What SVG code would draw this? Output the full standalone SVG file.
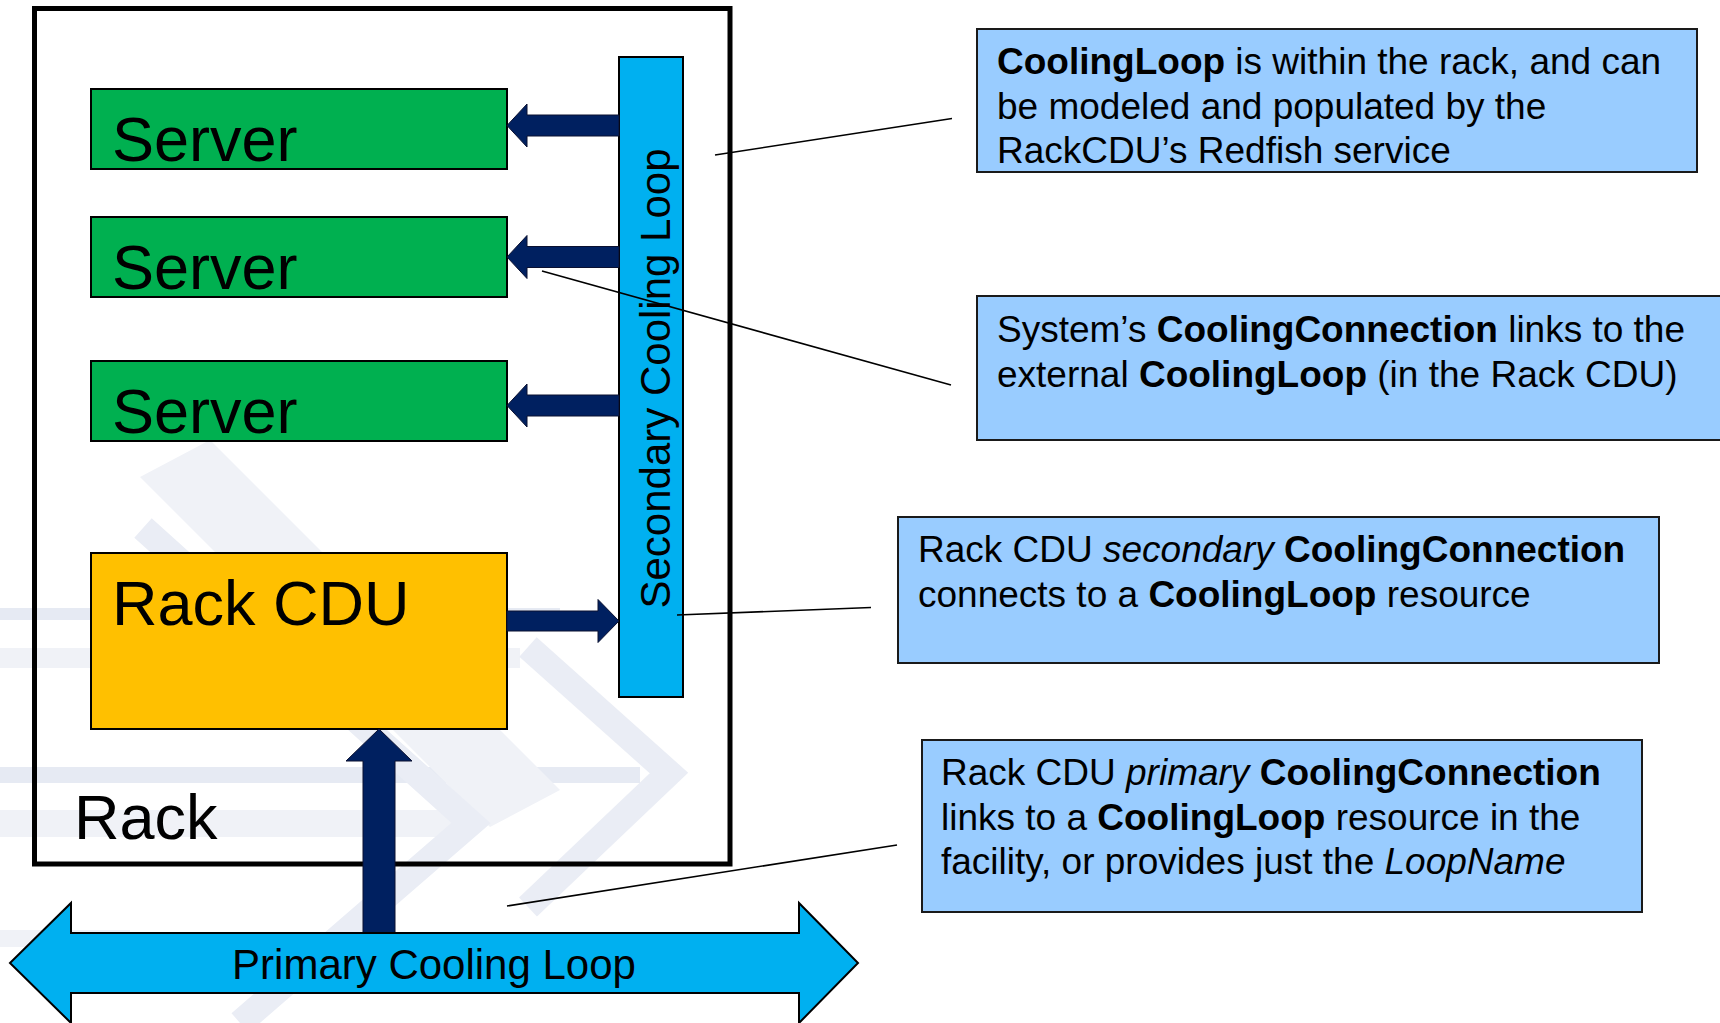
<svg xmlns="http://www.w3.org/2000/svg" width="1720" height="1023" viewBox="0 0 1720 1023">
<style>
  .wm { fill: #f0f2f7; }
  .wm2 { fill: #e6eaf3; }
  .wms { fill: none; stroke: #eaedf5; stroke-width: 26; }
  .server { fill: #00b050; stroke: #000; stroke-width: 2; }
  .cdu { fill: #ffc000; stroke: #000; stroke-width: 2; }
  .loop { fill: #00b0f0; stroke: #000; stroke-width: 2; }
  .flow { fill: #002060; stroke: #0a1030; stroke-width: 1; }
  .note { fill: #99ccff; stroke: #1a1a1a; stroke-width: 2; }
  .lead { stroke: #000; stroke-width: 1.6; fill: none; }
  .big { font-family: "Liberation Sans", Arial, sans-serif; font-size: 63px; fill: #000; }
  .mid { font-family: "Liberation Sans", Arial, sans-serif; font-size: 42px; fill: #000; }
  .txt { font-family: "Liberation Sans", Arial, sans-serif; font-size: 37px; fill: #000; }
  .b { font-weight: bold; }
  .i { font-style: italic; }
</style>

<g id="watermark">
  <rect class="wm2" x="0" y="608" width="560" height="12"/>
  <rect class="wm" x="0" y="648" width="520" height="20"/>
  <rect class="wm2" x="0" y="767" width="640" height="16"/>
  <rect class="wm" x="0" y="810" width="470" height="27"/>
  <rect class="wm" x="0" y="930" width="130" height="17"/>
  <polygon class="wm" points="140,477 210,440 560,790 490,827"/>
  <polyline class="wms" points="528,647 669,773 528,907"/>
  <polyline class="wms" points="143,528 471,823 240,1023"/>
</g>

<g id="rack">
  <rect x="34.5" y="8.5" width="695.5" height="855.5" fill="none" stroke="#000" stroke-width="5"/>
  <text class="big" x="74" y="839" font-size="62">Rack</text>
</g>

<g id="server1">
  <rect class="server" x="91" y="89" width="416" height="80"/>
  <text class="big" x="112" y="161">Server</text>
</g>
<g id="server2">
  <rect class="server" x="91" y="217" width="416" height="80"/>
  <text class="big" x="112" y="289">Server</text>
</g>
<g id="server3">
  <rect class="server" x="91" y="361" width="416" height="80"/>
  <text class="big" x="112" y="433">Server</text>
</g>

<g id="rack-cdu">
  <rect class="cdu" x="91" y="553" width="416" height="176"/>
  <text class="big" x="112" y="625">Rack CDU</text>
</g>

<g id="secondary-loop">
  <rect class="loop" x="619" y="57" width="64" height="640"/>
  <text class="mid" transform="translate(670,378.5) rotate(-90)" text-anchor="middle">Secondary Cooling Loop</text>
</g>

<g id="connectors">
  <polygon class="flow" points="619,115 527,115 527,104 507,125.5 527,147 527,136 619,136"/>
  <polygon class="flow" points="619,246.5 527,246.5 527,235.5 507,257 527,278.5 527,267.5 619,267.5"/>
  <polygon class="flow" points="619,395 527,395 527,384 507,405.5 527,427 527,416 619,416"/>
  <polygon class="flow" points="507,611 598,611 598,599.5 619,621 598,642.5 598,631 507,631"/>
  <polygon class="flow" points="363,934 363,761 346,761 379,729 412,761 395,761 395,934"/>
  <line class="lead" x1="715" y1="155" x2="952" y2="118.5"/>
  <line class="lead" x1="542" y1="271" x2="951" y2="385"/>
  <line class="lead" x1="677" y1="615" x2="871" y2="607.5"/>
  <line class="lead" x1="507" y1="906" x2="897" y2="845"/>
</g>

<g id="primary-loop">
  <polygon class="loop" points="10,963 71,903 71,933 799,933 799,903 858,963 799,1023 799,993 71,993 71,1023"/>
  <text class="mid" x="434" y="979" text-anchor="middle">Primary Cooling Loop</text>
</g>

<g id="note1">
  <rect class="note" x="977" y="29" width="720" height="143"/>
  <text class="txt" x="997" y="74"><tspan class="b">CoolingLoop</tspan> is within the rack, and can</text>
  <text class="txt" x="997" y="118.6">be modeled and populated by the</text>
  <text class="txt" x="997" y="163.2">RackCDU’s Redfish service</text>
</g>

<g id="note2">
  <rect class="note" x="977" y="296" width="760" height="144"/>
  <text class="txt" x="997" y="342">System’s <tspan class="b">CoolingConnection</tspan> links to the</text>
  <text class="txt" x="997" y="386.6">external <tspan class="b">CoolingLoop</tspan> (in the Rack CDU)</text>
</g>

<g id="note3">
  <rect class="note" x="898" y="517" width="761" height="146"/>
  <text class="txt" x="918" y="562">Rack CDU <tspan class="i">secondary</tspan> <tspan class="b">CoolingConnection</tspan></text>
  <text class="txt" x="918" y="606.6">connects to a <tspan class="b">CoolingLoop</tspan> resource</text>
</g>

<g id="note4">
  <rect class="note" x="922" y="740" width="720" height="172"/>
  <text class="txt" x="941" y="785">Rack CDU <tspan class="i">primary</tspan> <tspan class="b">CoolingConnection</tspan></text>
  <text class="txt" x="941" y="829.6">links to a <tspan class="b">CoolingLoop</tspan> resource in the</text>
  <text class="txt" x="941" y="874.2">facility, or provides just the <tspan class="i">LoopName</tspan></text>
</g>
</svg>
